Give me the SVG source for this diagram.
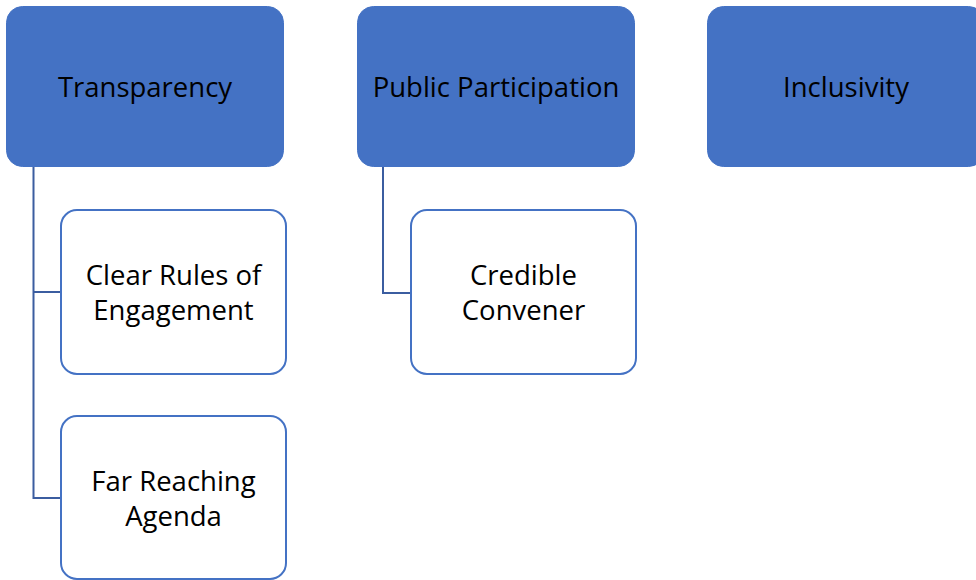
<svg xmlns="http://www.w3.org/2000/svg" width="976" height="580" viewBox="0 0 976 580">
  <style>
    .top rect { fill: #4472C4; stroke: #4472C4; stroke-width: 1; }
    .child rect { fill: #FFFFFF; stroke: #4472C4; stroke-width: 2; }
    text { font-family: "Open Sans", "Noto Sans", "Liberation Sans", sans-serif; font-size: 27.5px; fill: #000000; text-anchor: middle; }
    .links path { fill: none; stroke: #3B5DA0; stroke-width: 2; }
  </style>
  <rect width="976" height="580" fill="#FFFFFF"/>

  <!-- connectors from each heading to its children -->
  <g class="links">
    <path d="M33.5 167 V498 H61"/>
    <path d="M33.5 292 H61"/>
    <path d="M383 167 V293 H411"/>
  </g>

  <!-- top-level headings -->
  <g id="transparency" class="top">
    <rect x="6.5" y="6.5" width="277" height="160" rx="16"/>
    <text x="145" y="97">Transparency</text>
  </g>
  <g id="public-participation" class="top">
    <rect x="357.5" y="6.5" width="277" height="160" rx="16"/>
    <text x="496" y="97">Public Participation</text>
  </g>
  <g id="inclusivity" class="top">
    <rect x="707.5" y="6.5" width="277" height="160" rx="16"/>
    <text x="846" y="97">Inclusivity</text>
  </g>

  <!-- child items -->
  <g id="clear-rules" class="child">
    <rect x="61" y="210" width="225" height="164" rx="16"/>
    <text x="173.5" y="285">Clear Rules of</text>
    <text x="173.5" y="320">Engagement</text>
  </g>
  <g id="far-reaching" class="child">
    <rect x="61" y="416" width="225" height="163" rx="16"/>
    <text x="173.5" y="491">Far Reaching</text>
    <text x="173.5" y="526">Agenda</text>
  </g>
  <g id="credible-convener" class="child">
    <rect x="411" y="210" width="225" height="164" rx="16"/>
    <text x="523.5" y="285">Credible</text>
    <text x="523.5" y="320">Convener</text>
  </g>
</svg>
